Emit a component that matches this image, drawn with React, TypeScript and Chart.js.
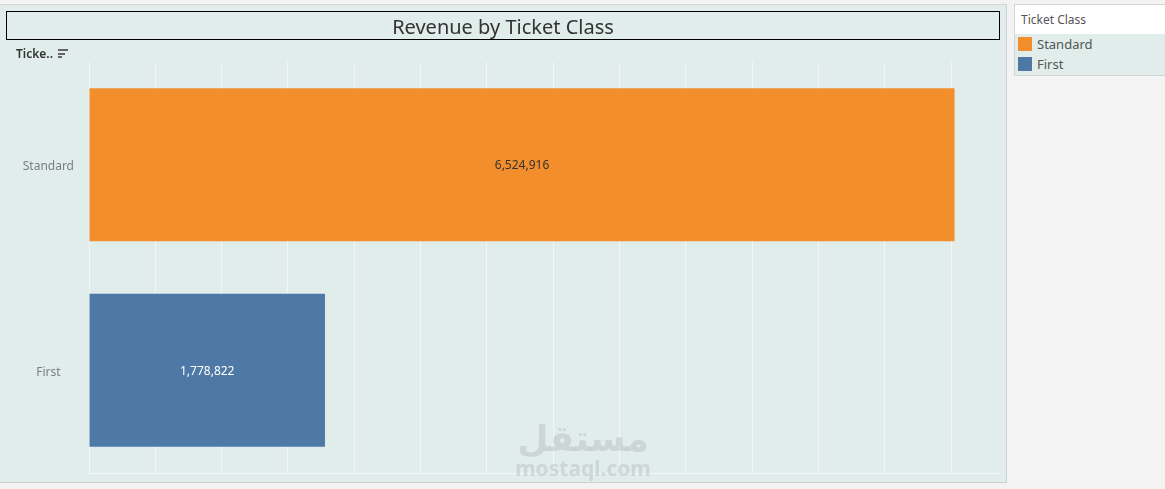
import React, { useEffect, useRef } from "react";
import { Chart, registerables } from "chart.js";

Chart.register(...registerables);

const categories = ["Standard", "First"];
const revenue = [6524916, 1778822];
const barColors = ["#f28e2b", "#4e79a7"];
const labelColors = ["#333333", "#ffffff"];
const legendTitle = "Ticket Class";
const chartTitle = "Revenue by Ticket Class";
const axisMax = 6860000;
const axisStep = 500000;

const FONT = "'Noto Sans', 'DejaVu Sans', sans-serif";

const barLabelPlugin = {
  id: "barLabels",
  afterDatasetsDraw(chart: any) {
    const ctx = chart.ctx;
    const meta = chart.getDatasetMeta(0);
    ctx.save();
    ctx.font = `12px ${FONT}`;
    ctx.textAlign = "center";
    ctx.textBaseline = "middle";
    meta.data.forEach((bar: any, i: number) => {
      const v = revenue[i];
      const x = (bar.base + bar.x) / 2;
      ctx.fillStyle = labelColors[i];
      ctx.fillText(v.toLocaleString("en-US"), x, bar.y + 1);
    });
    ctx.restore();
  },
};

export default function App() {
  const ref = useRef<HTMLCanvasElement | null>(null);

  useEffect(() => {
    document.body.style.margin = "0";
    const chart = new Chart(ref.current as HTMLCanvasElement, {
      type: "bar",
      data: {
        labels: categories,
        datasets: [
          {
            data: revenue,
            backgroundColor: barColors,
            categoryPercentage: 1,
            barPercentage: 0.745,
          },
        ],
      },
      options: {
        indexAxis: "y",
        animation: false,
        responsive: false,
        maintainAspectRatio: false,
        layout: { padding: { top: 62, bottom: 9, right: 8, left: 0 } },
        plugins: { legend: { display: false }, tooltip: { enabled: false } },
        scales: {
          x: {
            min: 0,
            max: axisMax,
            afterBuildTicks: (scale: any) => {
              const t: { value: number }[] = [];
              for (let v = 0; v <= axisMax; v += axisStep) t.push({ value: v });
              scale.ticks = t;
            },
            ticks: { display: false },
            grid: {
              color: "#f3f6f5",
              lineWidth: 1,
              drawTicks: false,
            },
            border: { display: true, color: "#f3f6f5", width: 1 },
            afterFit: (scale: any) => {
              scale.height = 0;
              scale.paddingLeft = 0;
              scale.paddingRight = 0;
            },
          },
          y: {
            afterFit: (scale: any) => {
              scale.width = 89;
              scale.paddingTop = 0;
              scale.paddingBottom = 0;
            },
            ticks: {
              crossAlign: "center",
              padding: 7,
              labelOffset: 2,
              color: "#7b7f80",
              font: { family: FONT, size: 12 },
            },
            grid: { display: false },
            border: { display: false },
          },
        },
      },
      plugins: [barLabelPlugin],
    } as any);
    return () => chart.destroy();
  }, []);

  return (
    <div
      style={{
        position: "relative",
        width: 1165,
        height: 489,
        background: "#f3f3f3",
        fontFamily: FONT,
        overflow: "hidden",
      }}
    >
      <div
        style={{
          position: "absolute",
          left: 0,
          top: 4,
          width: 1006,
          height: 477,
          background: "#e0edea",
          borderTop: "1px solid #d6d6d6",
          borderRight: "1px solid #cfcfcf",
          borderBottom: "1px solid #cfcfcf",
        }}
      />
      <canvas
        ref={ref}
        width={1007}
        height={482}
        style={{ position: "absolute", left: 0, top: 0 }}
      />
      <div
        style={{
          position: "absolute",
          left: 6,
          top: 11,
          width: 992,
          height: 27,
          border: "1px solid #000",
          display: "flex",
          alignItems: "center",
          justifyContent: "center",
          fontSize: 20,
          color: "#333",
        }}
      >
        <span style={{ position: "relative", top: 1 }}>{chartTitle}</span>
      </div>
      <div
        style={{
          position: "absolute",
          left: 16,
          top: 45,
          fontSize: 12,
          fontWeight: 600,
          color: "#333",
          display: "flex",
          alignItems: "center",
        }}
      >
        <span>Ticke..</span>
        <span style={{ display: "inline-block", marginLeft: 5, width: 10 }}>
          <span style={{ display: "block", width: 10, height: 2, background: "#666", marginBottom: 1.5 }} />
          <span style={{ display: "block", width: 7, height: 2, background: "#666", marginBottom: 1.5 }} />
          <span style={{ display: "block", width: 4, height: 2, background: "#666" }} />
        </span>
      </div>
      <div
        style={{
          position: "absolute",
          left: 503,
          top: 421,
          width: 160,
          textAlign: "center",
          color: "rgba(175,180,180,0.4)",
          pointerEvents: "none",
          lineHeight: 1,
        }}
      >
        <div style={{ fontSize: 36, fontWeight: 700, fontFamily: "'DejaVu Sans', sans-serif" }}>مستقل</div>
        <div style={{ fontSize: 21, fontWeight: 700, marginTop: 1 }}>mostaql.com</div>
      </div>
      <div
        style={{
          position: "absolute",
          left: 1014,
          top: 4,
          width: 151,
          height: 70,
          border: "1px solid #d4d4d4",
          borderRight: "none",
          background: "#e0edea",
        }}
      >
        <div
          style={{
            height: 29,
            background: "#fff",
            fontSize: 12,
            color: "#555",
            paddingLeft: 6,
            lineHeight: "29px",
          }}
        >
          {legendTitle}
        </div>
        {categories.map((c, i) => (
          <div key={c} style={{ display: "flex", alignItems: "center", height: 20, paddingLeft: 3 }}>
            <span style={{ width: 14, height: 14, background: barColors[i], display: "inline-block" }} />
            <span style={{ marginLeft: 5, fontSize: 13, color: "#555" }}>{c}</span>
          </div>
        ))}
      </div>
    </div>
  );
}
